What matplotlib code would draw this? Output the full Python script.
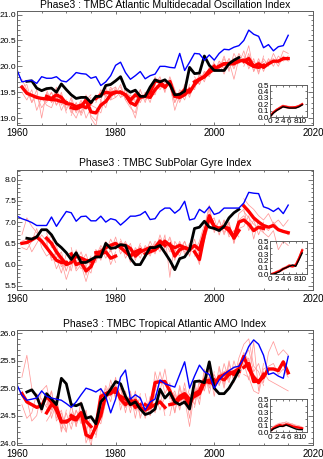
import numpy as np
import matplotlib.pyplot as plt
from matplotlib.ticker import MultipleLocator

plt.rcParams['font.family'] = ['Liberation Sans', 'DejaVu Sans']
plt.rcParams['font.size'] = 7

# time axes
years = np.arange(1960, 2016)          # observed index
ref_years = np.arange(1962, 2006)      # reference run
starts = [1961, 1966, 1971, 1976, 1981, 1986, 1991, 1996, 2001, 2006]
lead = np.arange(0, 11)

# ---------------- Atlantic Multidecadal Oscillation ----------------
amo_obs = [19.93, 19.70, 19.72, 19.73, 19.67, 19.80, 19.77, 19.77, 19.80, 19.72,
           19.70, 19.78, 19.88, 19.86, 19.85, 19.77, 19.80, 19.63, 19.70, 19.82,
           20.02, 20.08, 19.88, 19.75, 19.82, 19.90, 19.76, 19.82, 19.85, 20.00,
           20.00, 19.98, 19.97, 20.25, 19.92, 20.08, 20.25, 20.24, 20.12, 20.22,
           20.12, 20.25, 20.33, 20.32, 20.37, 20.40, 20.50, 20.70, 20.62, 20.58,
           20.36, 20.42, 20.30, 20.38, 20.40, 20.60]
amo_ref = [19.71, 19.72, 19.58, 19.53, 19.57, 19.58, 19.50, 19.66, 19.55, 19.45,
           19.38, 19.40, 19.40, 19.30, 19.42, 19.42, 19.63, 19.65, 19.72, 19.80,
           19.57, 19.50, 19.54, 19.42, 19.42, 19.60, 19.74, 19.70, 19.74, 19.65,
           19.45, 19.46, 19.52, 19.98, 19.86, 19.87, 20.20, 20.02, 19.92, 19.92,
           19.92, 20.05, 20.12, 20.17]
amo_mean = [[19.60, 19.48, 19.44, 19.40, 19.38, 19.37, 19.36, 19.35, 19.32, 19.30],
            [19.42, 19.38, 19.45, 19.40, 19.28, 19.27, 19.22, 19.25, 19.20, 19.30],
            [19.20, 19.18, 19.22, 19.35, 19.12, 19.10, 19.25, 19.32, 19.45, 19.50],
            [19.38, 19.45, 19.50, 19.48, 19.50, 19.50, 19.45, 19.30, 19.25, 19.42],
            [19.50, 19.45, 19.35, 19.45, 19.40, 19.42, 19.50, 19.72, 19.70, 19.60],
            [19.42, 19.40, 19.55, 19.65, 19.60, 19.70, 19.42, 19.40, 19.45, 19.55],
            [19.70, 19.42, 19.45, 19.55, 19.50, 19.65, 19.75, 19.80, 19.92, 20.00],
            [19.70, 19.75, 19.80, 19.88, 19.95, 20.00, 20.05, 20.05, 20.05, 20.10],
            [20.00, 20.05, 20.05, 20.08, 20.10, 20.12, 20.05, 20.00, 19.98, 20.02],
            [20.10, 20.15, 20.00, 20.05, 19.98, 20.05, 20.10, 20.10, 20.15, 20.15]]
amo_members = [
    [[19.75, 19.55, 19.30, 19.45, 19.20, 19.35, 19.50, 19.25, 19.40, 19.20],
     [19.50, 19.35, 19.55, 19.15, 19.40, 19.25, 19.20, 19.45, 19.15, 19.35],
     [19.60, 19.65, 19.30, 19.55, 19.00, 19.50, 19.30, 19.40, 19.45, 19.10]],
    [[19.55, 19.30, 19.60, 19.25, 19.35, 19.10, 19.30, 19.05, 19.25, 19.40],
     [19.30, 19.50, 19.25, 19.50, 19.15, 19.40, 19.15, 19.35, 19.00, 19.20],
     [19.45, 19.35, 19.40, 19.30, 19.30, 19.20, 19.25, 19.10, 19.35, 19.45]],
    [[19.05, 19.30, 19.10, 19.45, 19.00, 18.85, 19.35, 19.20, 19.55, 19.60],
     [19.35, 19.10, 19.30, 19.20, 19.25, 19.20, 19.10, 19.45, 19.35, 19.40],
     [19.15, 19.00, 19.25, 19.40, 19.05, 18.95, 19.30, 19.30, 19.50, 19.55]],
    [[19.30, 19.55, 19.40, 19.60, 19.45, 19.65, 19.35, 19.20, 19.10, 19.55],
     [19.45, 19.35, 19.60, 19.35, 19.60, 19.40, 19.55, 19.40, 19.35, 19.30],
     [19.40, 19.50, 19.45, 19.55, 19.40, 19.50, 19.40, 19.25, 19.00, 19.45]],
    [[19.60, 19.35, 19.45, 19.30, 19.55, 19.30, 19.60, 19.65, 19.80, 19.50],
     [19.45, 19.55, 19.25, 19.50, 19.30, 19.50, 19.40, 19.80, 19.60, 19.70],
     [19.40, 19.45, 19.30, 19.40, 19.35, 19.45, 19.55, 19.70, 19.75, 19.55]],
    [[19.50, 19.30, 19.65, 19.55, 19.70, 19.60, 19.30, 19.50, 19.35, 19.65],
     [19.35, 19.50, 19.45, 19.75, 19.50, 19.80, 19.55, 19.30, 19.55, 19.45],
     [19.40, 19.40, 19.60, 19.60, 19.65, 19.65, 19.15, 19.45, 19.50, 19.60]],
    [[19.60, 19.50, 19.35, 19.65, 19.45, 19.75, 19.65, 19.90, 19.85, 20.10],
     [19.75, 19.30, 19.55, 19.45, 19.60, 19.55, 19.85, 19.70, 20.00, 19.95],
     [19.65, 19.45, 19.40, 19.60, 19.40, 19.70, 19.80, 19.85, 19.95, 20.05]],
    [[19.60, 19.85, 19.75, 19.95, 19.90, 20.10, 20.00, 20.15, 19.95, 20.20],
     [19.80, 19.65, 19.90, 19.80, 20.05, 19.95, 20.15, 19.95, 20.15, 20.05],
     [19.70, 19.75, 19.85, 19.90, 19.95, 20.05, 19.95, 20.10, 20.05, 20.15]],
    [[20.10, 19.95, 20.15, 20.00, 20.25, 20.10, 20.40, 19.90, 20.10, 19.95],
     [19.95, 20.20, 19.90, 20.25, 20.05, 20.30, 19.95, 20.15, 19.85, 20.20],
     [20.05, 19.85, 20.10, 19.75, 20.15, 20.05, 20.20, 20.05, 19.95, 20.10]],
    [[20.20, 20.05, 20.10, 19.95, 20.15, 20.00, 20.25, 20.05, 20.30, 20.25],
     [20.00, 20.25, 19.90, 20.15, 19.90, 20.15, 20.00, 20.20, 20.10, 20.20],
     [20.15, 20.10, 20.05, 19.90, 20.05, 20.10, 20.15, 20.00, 20.20, 20.10]]]
amo_skill_ref = [0.00, 0.06, 0.10, 0.13, 0.16, 0.15, 0.14, 0.14, 0.14, 0.16, 0.19]
amo_skill_mean = [0.01, 0.07, 0.11, 0.14, 0.17, 0.16, 0.15, 0.15, 0.155, 0.17, 0.20]
amo_skill_members = [[0.02, 0.09, 0.12, 0.16, 0.19, 0.17, 0.17, 0.16, 0.17, 0.18, 0.22],
                     [0.00, 0.05, 0.10, 0.12, 0.15, 0.14, 0.13, 0.14, 0.14, 0.16, 0.18],
                     [0.01, 0.08, 0.13, 0.15, 0.18, 0.18, 0.16, 0.17, 0.16, 0.19, 0.21],
                     [0.01, 0.06, 0.09, 0.13, 0.16, 0.15, 0.15, 0.13, 0.15, 0.17, 0.19]]

# ---------------- SubPolar Gyre ----------------
spg_obs = [7.14, 7.08, 7.04, 6.99, 6.92, 6.92, 6.92, 7.12, 6.90, 7.08,
           7.25, 7.22, 7.02, 7.13, 7.14, 7.03, 7.03, 7.14, 7.00, 7.08,
           7.05, 6.93, 7.03, 7.14, 7.14, 7.17, 7.25, 7.06, 7.08, 7.25,
           7.33, 7.33, 7.21, 7.30, 7.49, 7.05, 7.08, 7.30, 7.22, 7.36,
           7.18, 7.22, 7.33, 7.33, 7.33, 7.33, 7.45, 7.70, 7.68, 7.67,
           7.36, 7.32, 7.25, 7.33, 7.20, 7.40]
spg_ref = [6.62, 6.60, 6.65, 6.82, 6.82, 6.70, 6.50, 6.40, 6.28, 6.12,
           6.28, 6.05, 6.05, 6.12, 6.18, 6.18, 6.50, 6.38, 6.40, 6.47,
           6.45, 6.15, 6.00, 6.00, 6.20, 6.40, 6.40, 6.45, 6.28, 6.10,
           5.88, 6.14, 6.18, 6.35, 6.85, 6.88, 7.02, 6.88, 6.85, 6.80,
           6.90, 7.10, 7.22, 7.30]
spg_mean = [[6.50, 6.52, 6.58, 6.65, 6.55, 6.40, 6.25, 6.10, 6.05, 6.05],
            [6.62, 6.50, 6.30, 6.15, 6.00, 6.05, 6.20, 6.15, 6.10, 6.08],
            [6.25, 6.00, 6.05, 5.85, 5.95, 6.20, 6.25, 6.30, 6.15, 6.20],
            [6.28, 6.30, 6.40, 6.45, 6.50, 6.40, 6.30, 6.20, 6.30, 6.35],
            [6.45, 6.45, 6.38, 6.20, 6.30, 6.35, 6.40, 6.40, 6.55, 6.45],
            [6.25, 6.30, 6.35, 6.45, 6.55, 6.45, 6.40, 6.45, 6.40, 6.35],
            [6.48, 6.20, 6.35, 6.40, 6.35, 6.45, 6.35, 6.75, 7.10, 6.90],
            [6.30, 6.12, 6.70, 7.15, 6.90, 6.85, 6.88, 6.85, 6.62, 6.80],
            [6.85, 6.90, 6.80, 6.65, 7.00, 7.05, 6.95, 6.80, 6.88, 6.85],
            [7.38, 7.25, 7.10, 7.00, 6.92, 6.88, 6.92, 6.82, 6.78, 6.75]]
spg_members = [
    [[6.70, 7.10, 6.90, 6.75, 6.60, 6.45, 6.15, 6.30, 5.95, 6.10],
     [6.40, 6.35, 6.55, 6.85, 6.40, 6.20, 6.30, 5.90, 6.15, 5.85],
     [6.55, 6.60, 6.30, 6.50, 6.70, 6.55, 6.10, 6.15, 5.80, 6.25]],
    [[6.75, 6.40, 6.45, 6.00, 6.10, 5.85, 6.35, 6.05, 6.25, 5.90],
     [6.50, 6.70, 6.15, 6.30, 5.85, 6.20, 6.05, 6.30, 5.95, 6.20],
     [6.60, 6.45, 6.25, 6.10, 5.65, 6.00, 6.25, 6.00, 6.10, 6.00]],
    [[6.40, 5.90, 6.20, 5.75, 6.10, 6.05, 6.40, 6.15, 6.35, 6.05],
     [6.15, 6.10, 5.90, 5.95, 5.80, 6.35, 6.10, 6.45, 6.00, 6.30],
     [6.30, 5.85, 6.00, 5.60, 6.00, 6.25, 6.35, 6.25, 6.20, 6.15]],
    [[6.20, 6.45, 6.30, 6.60, 6.35, 6.55, 6.15, 6.35, 6.20, 6.50],
     [6.35, 6.15, 6.55, 6.30, 6.65, 6.25, 6.45, 6.05, 6.40, 6.25],
     [6.25, 6.30, 6.35, 6.50, 6.45, 6.40, 6.25, 6.25, 6.30, 6.30]],
    [[6.60, 6.30, 6.50, 6.10, 6.45, 6.25, 6.55, 6.30, 6.70, 6.35],
     [6.35, 6.55, 6.25, 6.35, 6.15, 6.45, 6.30, 6.55, 6.40, 6.60],
     [6.40, 6.50, 6.40, 6.15, 6.30, 6.35, 6.35, 6.45, 6.60, 6.40]],
    [[6.15, 6.45, 6.25, 6.60, 6.40, 6.65, 6.30, 6.55, 6.25, 6.45],
     [6.40, 6.20, 6.50, 6.30, 6.70, 5.70, 6.55, 6.35, 6.55, 6.20],
     [6.20, 6.30, 6.30, 6.45, 6.55, 6.30, 6.40, 6.50, 6.35, 6.40]],
    [[6.60, 6.10, 6.50, 6.30, 6.50, 6.30, 6.55, 6.95, 7.30, 6.80],
     [6.35, 6.35, 6.20, 6.55, 6.20, 6.60, 6.20, 6.60, 6.95, 7.05],
     [6.50, 6.15, 6.40, 6.35, 6.40, 6.45, 6.30, 6.80, 7.05, 6.85]],
    [[6.45, 6.05, 6.85, 7.40, 6.75, 7.05, 6.70, 7.00, 6.50, 6.95],
     [6.20, 6.30, 6.55, 7.00, 7.10, 6.70, 7.05, 6.70, 6.80, 6.65],
     [6.35, 6.00, 6.75, 7.20, 6.85, 6.90, 6.85, 6.95, 6.55, 6.85]],
    [[7.05, 6.75, 7.00, 6.50, 7.20, 7.30, 6.80, 7.05, 6.70, 7.00],
     [6.70, 7.05, 6.65, 6.80, 6.85, 6.90, 7.15, 6.60, 7.05, 6.75],
     [6.90, 6.85, 6.90, 6.60, 7.05, 7.15, 6.95, 6.85, 6.90, 6.90]],
    [[7.55, 7.40, 7.30, 7.15, 7.05, 7.20, 6.95, 7.05, 6.90, 7.05],
     [7.25, 7.10, 6.95, 6.85, 6.75, 6.65, 6.80, 6.35, 6.55, 6.45],
     [7.40, 7.30, 7.05, 7.00, 6.90, 6.80, 7.00, 6.85, 6.80, 6.70]]]
spg_skill_ref = [0.00, 0.00, 0.02, 0.04, 0.08, 0.10, 0.12, 0.14, 0.12, 0.22, 0.32]
spg_skill_mean = [0.00, 0.01, 0.03, 0.05, 0.08, 0.10, 0.13, 0.12, 0.14, 0.24, 0.36]
spg_skill_members = [[0.01, 0.02, 0.05, 0.07, 0.10, 0.12, 0.15, 0.14, 0.16, 0.27, 0.39],
                     [0.00, 0.00, 0.02, 0.04, 0.06, 0.09, 0.11, 0.10, 0.12, 0.21, 0.33],
                     [0.00, 0.02, 0.04, 0.06, 0.09, 0.11, 0.14, 0.13, 0.15, 0.25, 0.37],
                     [0.01, 0.01, 0.03, 0.04, 0.07, 0.09, 0.12, 0.11, 0.13, 0.23, 0.35]]

# ---------------- Tropical Atlantic AMO ----------------
tam_obs = [25.06, 24.87, 24.78, 24.80, 24.82, 24.95, 24.85, 24.82, 24.80, 24.78,
           24.72, 24.65, 24.75, 24.88, 25.00, 24.97, 24.93, 24.99, 24.85, 24.55,
           24.80, 25.20, 25.33, 24.80, 24.88, 24.82, 24.60, 24.75, 24.80, 25.15,
           25.08, 25.05, 25.02, 25.25, 25.48, 25.00, 25.22, 25.42, 25.30, 25.25,
           25.00, 25.15, 25.25, 25.32, 25.38, 25.40, 25.55, 25.76, 25.88, 25.80,
           25.60, 25.25, 25.28, 25.22, 25.18, 25.58]
tam_ref = [24.93, 24.97, 24.85, 24.62, 24.90, 24.80, 24.70, 25.18, 25.08, 24.70,
           24.68, 24.72, 24.45, 24.48, 24.35, 24.75, 24.85, 24.98, 25.12, 25.08,
           24.85, 24.70, 24.75, 24.62, 24.52, 24.55, 24.62, 24.98, 24.82, 24.92,
           24.75, 24.70, 24.75, 24.62, 25.12, 25.13, 25.10, 25.48, 25.00, 24.90,
           24.90, 25.00, 25.15, 25.32]
tam_mean = [[24.90, 24.75, 24.70, 24.65, 24.68, 24.85, 24.75, 24.60, 24.38, 24.40],
            [24.55, 24.70, 24.65, 24.40, 24.38, 24.45, 24.42, 24.55, 24.40, 24.30],
            [24.50, 24.45, 24.55, 24.15, 24.10, 24.30, 24.85, 24.90, 24.95, 24.92],
            [24.30, 24.50, 24.88, 24.90, 25.00, 24.80, 24.70, 24.80, 24.65, 24.70],
            [24.85, 24.80, 24.70, 24.78, 24.65, 24.60, 24.65, 24.70, 24.75, 24.65],
            [24.70, 24.65, 25.10, 25.12, 25.12, 24.95, 24.75, 24.85, 24.90, 24.80],
            [24.70, 24.72, 24.80, 24.85, 24.70, 24.90, 24.95, 25.15, 25.10, 25.15],
            [24.85, 24.90, 25.10, 25.15, 25.05, 25.20, 25.25, 25.30, 25.25, 25.30],
            [25.20, 25.15, 25.25, 25.30, 25.35, 25.58, 25.35, 25.20, 25.10, 25.25],
            [25.38, 25.45, 25.12, 25.13, 25.20, 25.35, 25.35, 25.32, 25.48, 25.28]]
tam_members = [
    [[25.20, 25.60, 25.00, 24.80, 24.55, 24.90, 24.45, 24.75, 24.20, 24.60],
     [24.70, 24.45, 24.55, 24.90, 24.80, 24.65, 24.95, 24.40, 24.55, 24.25],
     [24.95, 24.80, 24.40, 24.50, 24.95, 25.05, 24.60, 24.85, 24.35, 24.20]],
    [[24.70, 24.95, 24.45, 24.60, 24.20, 24.70, 24.30, 24.75, 24.20, 24.50],
     [24.40, 24.55, 24.85, 24.25, 24.55, 24.25, 24.60, 24.35, 24.60, 24.10],
     [24.60, 24.80, 24.60, 24.35, 24.40, 24.50, 24.35, 24.50, 24.35, 24.35]],
    [[24.70, 24.30, 24.75, 24.00, 24.25, 24.15, 25.00, 24.75, 25.15, 24.80],
     [24.35, 24.60, 24.40, 24.30, 23.95, 24.45, 24.70, 25.05, 24.85, 25.10],
     [24.55, 24.40, 24.60, 24.10, 24.05, 24.35, 24.90, 24.85, 25.00, 24.95]],
    [[24.10, 24.65, 25.00, 24.75, 25.20, 24.60, 24.90, 24.65, 24.85, 24.50],
     [24.45, 24.35, 24.75, 25.05, 24.85, 25.00, 24.55, 24.95, 24.45, 24.90],
     [24.30, 24.55, 24.85, 24.90, 25.05, 24.75, 24.65, 24.80, 24.60, 24.65]],
    [[25.05, 24.65, 24.90, 24.60, 24.85, 24.45, 24.85, 24.55, 24.95, 24.50],
     [24.70, 24.95, 24.55, 24.95, 24.45, 24.75, 24.50, 24.90, 24.60, 24.85],
     [24.80, 24.85, 24.65, 24.80, 24.60, 24.55, 24.70, 24.70, 24.80, 24.60]],
    [[24.90, 24.50, 25.30, 24.95, 25.35, 24.80, 24.95, 24.65, 25.10, 24.60],
     [24.55, 24.80, 24.95, 25.30, 24.90, 25.10, 24.55, 25.05, 24.70, 25.00],
     [24.65, 24.60, 25.15, 25.10, 25.15, 24.90, 24.70, 24.90, 24.85, 24.75]],
    [[24.90, 24.55, 25.00, 24.70, 24.90, 24.70, 25.15, 24.95, 25.35, 25.00],
     [24.50, 24.90, 24.60, 25.00, 24.45, 25.10, 24.80, 25.35, 24.90, 25.30],
     [24.75, 24.70, 24.85, 24.80, 24.30, 24.95, 25.00, 25.20, 25.05, 25.20]],
    [[25.05, 24.70, 25.30, 25.00, 25.25, 25.05, 25.45, 25.15, 25.40, 25.20],
     [24.65, 25.10, 24.95, 25.35, 24.85, 25.40, 25.05, 25.50, 25.10, 25.45],
     [24.80, 24.95, 25.15, 25.20, 25.10, 25.25, 25.30, 25.35, 25.20, 25.35]],
    [[25.35, 25.00, 25.45, 25.15, 25.55, 25.80, 25.90, 25.40, 25.30, 25.05],
     [25.05, 25.30, 25.10, 25.50, 25.20, 25.45, 25.15, 25.85, 24.95, 25.45],
     [25.25, 25.20, 25.30, 25.25, 25.40, 25.65, 25.50, 25.25, 25.15, 25.30]],
    [[25.55, 25.70, 25.30, 25.45, 25.10, 25.65, 25.85, 25.60, 25.70, 25.60],
     [25.25, 25.20, 24.95, 24.90, 25.30, 25.15, 25.10, 25.05, 25.00, 24.95],
     [25.40, 25.55, 25.20, 25.10, 25.35, 25.40, 25.45, 25.25, 25.35, 25.20]]]
tam_skill_ref = [0.01, 0.05, 0.07, 0.09, 0.09, 0.11, 0.09, 0.07, 0.05, 0.04, 0.04]
tam_skill_mean = [0.02, 0.06, 0.09, 0.11, 0.10, 0.12, 0.11, 0.09, 0.08, 0.07, 0.06]
tam_skill_members = [[0.03, 0.09, 0.12, 0.14, 0.13, 0.16, 0.14, 0.12, 0.11, 0.10, 0.08],
                     [0.01, 0.04, 0.07, 0.09, 0.08, 0.10, 0.09, 0.07, 0.06, 0.05, 0.05],
                     [0.02, 0.08, 0.11, 0.13, 0.15, 0.14, 0.12, 0.13, 0.09, 0.08, 0.07],
                     [0.01, 0.05, 0.10, 0.10, 0.11, 0.12, 0.13, 0.10, 0.07, 0.09, 0.06]]

THIN_RED = '#ff9a9a'
FRAME = '#606060'


def style_axes(ax):
    for s in ax.spines.values():
        s.set_color(FRAME)
        s.set_linewidth(0.7)
    ax.tick_params(which='both', direction='in', top=True, right=True,
                   color=FRAME, width=0.6)


def draw_panel(rect, inset_rect, title, obs, ref, mean, members,
               skill_ref, skill_mean, skill_members, ylim):
    ax = fig.add_axes(rect)
    for s, group in zip(starts, members):
        for m in group:
            ax.plot(np.arange(s, s + 10), m, color=THIN_RED, lw=0.55)
    for s, seg in zip(starts, mean):
        ax.plot(np.arange(s, s + 10), seg, color='red', lw=2.4)
    ax.plot(ref_years, ref, color='black', lw=2.0)
    ax.plot(years, obs, color='blue', lw=1.0)

    ax.set_xlim(1960, 2020)
    ax.set_ylim(*ylim)
    ax.xaxis.set_major_locator(MultipleLocator(20))
    ax.xaxis.set_minor_locator(MultipleLocator(5))
    ax.yaxis.set_major_locator(MultipleLocator(0.5))
    ax.yaxis.set_minor_locator(MultipleLocator(0.1))
    ax.yaxis.set_major_formatter('{x:.1f}')
    style_axes(ax)
    ax.tick_params(axis='y', which='major', length=3.6, pad=0.5, labelsize=6.1)
    ax.tick_params(axis='y', which='minor', length=1.8)
    ax.tick_params(axis='x', which='major', length=2.2, pad=2.6)
    ax.tick_params(axis='x', which='minor', length=1.1)
    ax.set_title(title, fontsize=7.5, pad=2.5)

    # skill versus lead time
    ins = fig.add_axes(inset_rect)
    ins.patch.set_alpha(0)
    for m in skill_members:
        ins.plot(lead, m, color=THIN_RED, lw=0.5)
    ins.plot(lead, skill_mean, color='red', lw=1.6)
    ins.plot(lead, skill_ref, color='black', lw=1.0)
    ins.set_xlim(0, 11.4)
    ins.set_ylim(0, 0.5)
    ins.set_xticks([0, 2, 4, 6, 8, 10])
    ins.set_yticks([0.0, 0.1, 0.2, 0.3, 0.4, 0.5])
    ins.yaxis.set_major_formatter('{x:.1f}')
    style_axes(ins)
    ins.tick_params(which='both', length=1.5, labelsize=5.9, pad=1)


fig = plt.figure(figsize=(3.23, 4.59), dpi=100)

draw_panel([0.0526, 0.728, 0.916, 0.247], [0.836, 0.745, 0.1136, 0.0697],
           'Phase3 : TMBC Atlantic Multidecadal Oscillation Index',
           amo_obs, amo_ref, amo_mean, amo_members,
           amo_skill_ref, amo_skill_mean, amo_skill_members, (18.87, 21.06))
draw_panel([0.0526, 0.368, 0.916, 0.262], [0.836, 0.4024, 0.1136, 0.0725],
           'Phase3 : TMBC SubPolar Gyre Index',
           spg_obs, spg_ref, spg_mean, spg_members,
           spg_skill_ref, spg_skill_mean, spg_skill_members, (5.40, 8.23))
draw_panel([0.0526, 0.03, 0.916, 0.251], [0.836, 0.0582, 0.1136, 0.0719],
           'Phase3 : TMBC Tropical Atlantic AMO Index',
           tam_obs, tam_ref, tam_mean, tam_members,
           tam_skill_ref, tam_skill_mean, tam_skill_members, (23.96, 26.06))

fig.savefig('out.png', dpi=100)
